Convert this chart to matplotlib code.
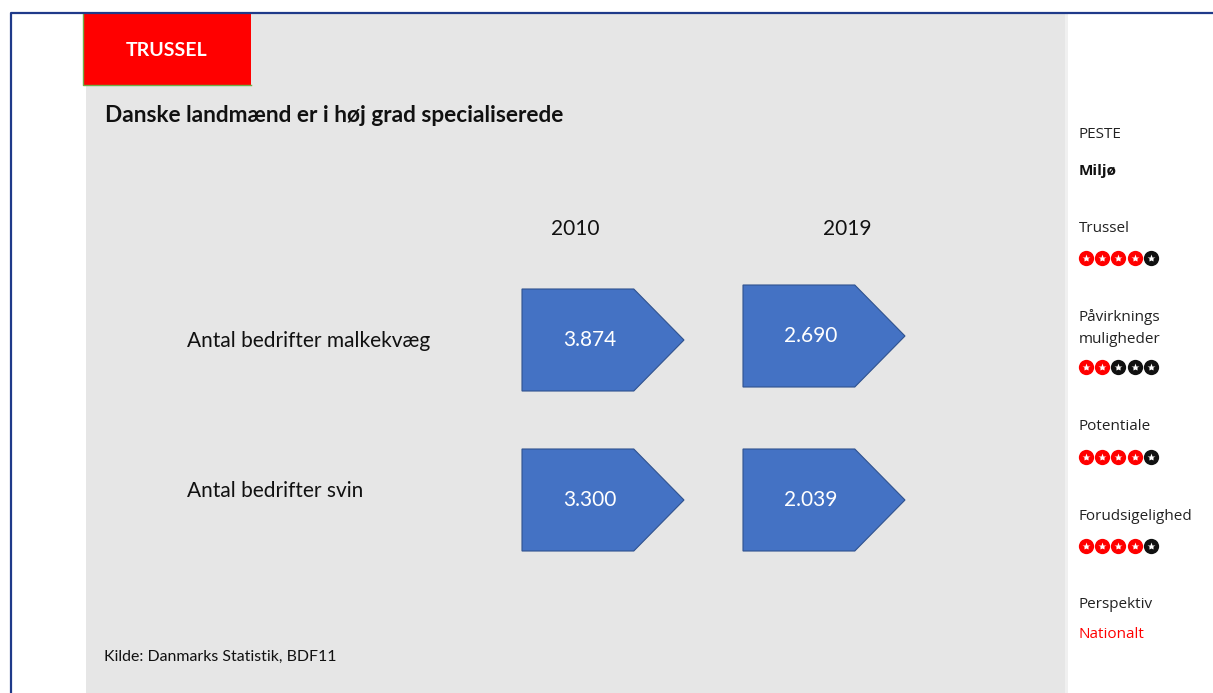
import matplotlib.pyplot as plt
from matplotlib.patches import Polygon, Rectangle

# antal bedrifter, 2010 og 2019
years = ['2010', '2019']
categories = ['Antal bedrifter malkekvæg', 'Antal bedrifter svin']
farms_2010 = [3874, 3300]
farms_2019 = [2690, 2039]

# vurdering i sidebaren (ud af 5)
rating_names = ['Trussel', 'Påvirknings\nmuligheder', 'Potentiale', 'Forudsigelighed']
rating_scores = [4, 2, 4, 4]

MAIN_FONT = ['Lato', 'DejaVu Sans']
SIDE_FONT = ['Open Sans', 'DejaVu Sans']
BLUE = '#4472C4'
RED = '#FF0000'


def dk_number(v):
    return f'{v:,}'.replace(',', '.')


def home_plate(ax, x, y, w, h):
    # femkant med spids mod hoejre (som PowerPoint "home plate")
    tip = w * 0.31
    pts = [(x, y), (x + w - tip, y), (x + w, y + h / 2), (x + w - tip, y + h), (x, y + h)]
    ax.add_patch(Polygon(pts, closed=True, facecolor=BLUE, edgecolor='#2F528F', lw=0.8, zorder=3))


fig = plt.figure(figsize=(12.13, 6.93), dpi=100)
ax = fig.add_axes([0, 0, 1, 1])
ax.set_xlim(0, 1213)
ax.set_ylim(693, 0)
ax.axis('off')

# ramme
ax.plot([11, 11, 1213], [693, 13, 13], color='#1F3A8A', lw=1.6, zorder=5)

# graa panel
ax.add_patch(Rectangle((86, 14), 979, 679, facecolor='#E6E6E6', edgecolor='none', zorder=1))
ax.add_patch(Rectangle((1065, 14), 3, 679, facecolor='#F0F0F0', edgecolor='none', zorder=1))

# roed etiket
ax.add_patch(Rectangle((83, 14), 168, 71, facecolor=RED, edgecolor='none', zorder=2))
ax.plot([83, 83, 251], [14, 85, 85], color='#70AD47', lw=1.0, zorder=2)
ax.text(167, 50, 'TRUSSEL', color='white', fontsize=14, fontweight='bold',
        family=MAIN_FONT, ha='center', va='center', zorder=4)

ax.text(105, 116, 'Danske landmænd er i høj grad specialiserede', fontsize=16.3,
        family=MAIN_FONT, fontweight='bold', ha='left', va='center', color='#111111', zorder=4)

# aarstal over kolonnerne
col_x = [522, 743]
box_w, box_h = 162, 102
year_x = [575, 847]
for yx, yr in zip(year_x, years):
    ax.text(yx, 229, yr, fontsize=15, family=MAIN_FONT,
            ha='center', va='center', color='#111111', zorder=4)

row_y = [[289, 285], [449, 449]]
label_y = [341, 491]
for i, cat in enumerate(categories):
    ax.text(187, label_y[i], cat, fontsize=15, family=MAIN_FONT, ha='left', va='center',
            color='#111111', zorder=4)
    for j, val in enumerate([farms_2010[i], farms_2019[i]]):
        top = row_y[i][j]
        home_plate(ax, col_x[j], top, box_w, box_h)
        ax.text(col_x[j] + 0.42 * box_w, top + box_h / 2, dk_number(val), color='white',
                fontsize=15, family=MAIN_FONT, ha='center', va='center', zorder=4)

ax.text(104, 657, 'Kilde: Danmarks Statistik, BDF11', fontsize=11.4, family=MAIN_FONT,
        ha='left', va='center', color='#111111', zorder=4)

# sidebar
sx = 1079
ax.text(sx, 135, 'PESTE', fontsize=11, family=SIDE_FONT, ha='left', va='center', color='#222222')
ax.text(sx, 171, 'Miljø', fontsize=11, family=SIDE_FONT, fontweight='bold', ha='left', va='center',
        color='#111111')

name_y = [228, 328, 427, 516]
dots_y = [258, 367, 457, 546]
for name, score, ny, dy in zip(rating_names, rating_scores, name_y, dots_y):
    ax.text(sx, ny, name, fontsize=11, family=SIDE_FONT, ha='left', va='center',
            color='#222222', linespacing=1.55)
    for k in range(5):
        c = RED if k < score else '#111111'
        ax.plot(sx + 7 + k * 16.2, dy, 'o', ms=11, color=c, mec='none', zorder=4)
        ax.plot(sx + 7 + k * 16.2, dy, '*', ms=6, color='white', mec='none', zorder=5)

ax.text(sx, 604, 'Perspektiv', fontsize=11, family=SIDE_FONT, ha='left', va='center', color='#222222')
ax.text(sx, 635, 'Nationalt', fontsize=11, family=SIDE_FONT, ha='left', va='center', color=RED)

fig.savefig('out.png', dpi=100, facecolor='white')
